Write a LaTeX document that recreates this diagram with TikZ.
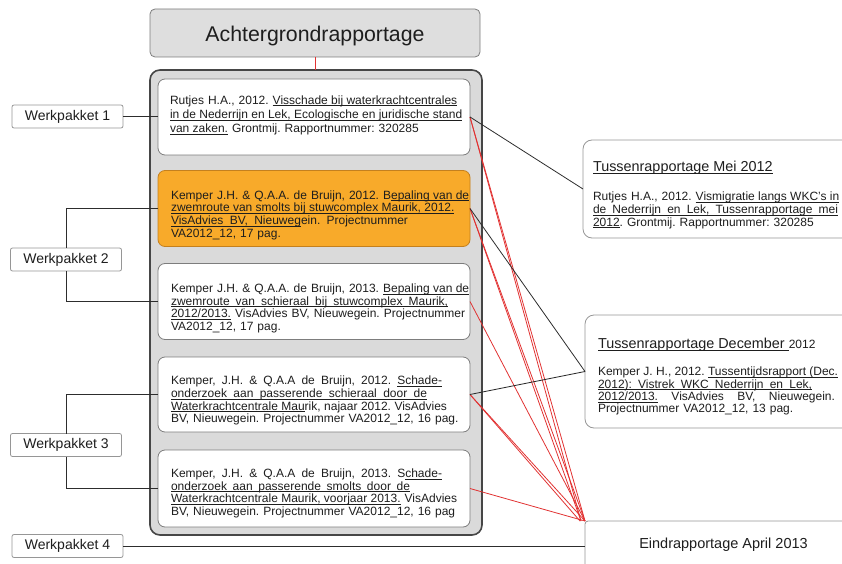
\documentclass[tikz,border=0pt]{standalone}
\usepackage{fontspec}
\setmainfont{Liberation Sans}
\frenchspacing
\newif\ifulfill
\newsavebox\ulwbox
\newcommand\ulword[1]{\leavevmode\sbox\ulwbox{#1}\rlap{\vrule height -0.1em depth 0.17em width \wd\ulwbox}\usebox\ulwbox}
\newcommand\ulspace{\leaders\hrule height -0.1em depth 0.17em\hskip\fontdimen2\font plus \ifulfill 1fil\else\fontdimen3\font\fi minus\fontdimen4\font\relax}
\def\uln#1{\leavevmode\ulnA#1 \ulnend}
\def\ulnA#1 #2\ulnend{\ulword{#1}\ifx\relax#2\relax\else\ulspace\ulnA#2\ulnend\fi}
\newcommand\sline[2]{\leavevmode\hbox to #1{\ulfilltrue\spaceskip=\fontdimen2\font plus 1fil\relax #2}}
\definecolor{contfill}{RGB}{218,218,218}
\definecolor{contdraw}{RGB}{70,70,70}
\definecolor{boxdraw}{RGB}{125,125,125}
\definecolor{lightdraw}{RGB}{150,150,150}
\definecolor{hdrfill}{RGB}{222,222,222}
\definecolor{orangefill}{RGB}{248,170,42}
\definecolor{orangedraw}{RGB}{196,128,30}
\definecolor{redline}{RGB}{225,50,50}
\definecolor{darkline}{RGB}{45,45,45}
\definecolor{txtc}{RGB}{30,30,30}
\begin{document}
\begin{tikzpicture}[x=1pt,y=-1pt,
  every node/.style={inner sep=0pt, outer sep=0pt, text=txtc},
  hdrbox/.style={draw=boxdraw, line width=0.8pt, fill=hdrfill, rounded corners=5pt},
  contbox/.style={draw=contdraw, line width=1.6pt, fill=contfill, rounded corners=10pt},
  refbox/.style={draw=boxdraw, line width=0.8pt, fill=white, rounded corners=7pt, minimum width=312pt, minimum height=76pt},
  orbox/.style={refbox, draw=orangedraw, fill=orangefill},
  sidebox/.style={draw=lightdraw, line width=0.8pt, fill=white, rounded corners=9pt},
  wpbox/.style={draw=lightdraw, line width=0.8pt, fill=white, rounded corners=2pt, minimum width=111pt, minimum height=23pt, font=\fontsize{14}{16}\selectfont},
  reftext/.style={anchor=north west, text width=300pt, align=left, font=\fontsize{12}{12.6}\selectfont},
  conn/.style={draw=darkline, line width=0.8pt},
  redconn/.style={draw=redline, line width=0.8pt}]
\useasboundingbox (0,0) rectangle (842,564);
\clip (0,0) rectangle (842,564);

% header
\node[hdrbox, minimum width=330pt, minimum height=48pt] (hdr) at (315,33) {};
\node[font=\fontsize{21.3}{24}\selectfont] (hdrtext) at (315,36) {Achtergrondrapportage};

% container
\node[contbox, minimum width=332pt, minimum height=465pt] (cont) at (316,302.5) {};

% reference boxes
\node[refbox] (b1) at (314,117) {};
\node[orbox] (b2) at (314,208.5) {};
\node[refbox] (b3) at (314,301.5) {};
\node[refbox, minimum height=75pt] (b4) at (314,394.5) {};
\node[refbox, minimum height=77pt] (b5) at (314,488.5) {};

\node[reftext, font=\fontsize{12}{14.2}\selectfont] (t1) at (170,95.6) {Rutjes H.A., 2012. \uln{Visschade bij waterkrachtcentrales}\\
\uln{in de Nederrijn en Lek, Ecologische en juridische stand}\\
\uln{van zaken.} Grontmij. Rapportnummer: 320285};

\node[reftext] (t2) at (171,190.6) {Kemper J.H. \& Q.A.A. de Bruijn, 2012. B\uln{epaling van de}\\
\uln{zwemroute van smolts bij stuwcomplex Maurik, 2012.}\\
\sline{237pt}{\uln{VisAdvies BV, Nieuweg}ein. Projectnummer}\\
VA2012\_12, 17 pag.};

\node[reftext] (t3) at (171,283.9) {Kemper J.H. \& Q.A.A. de Bruijn, 2013. \uln{Bepaling van de}\\
\sline{277pt}{\uln{zwemroute van schieraal bij stuwcomplex Maurik,}}\\
\uln{2012/2013.} VisAdvies BV, Nieuwegein. Projectnummer\\
VA2012\_12, 17 pag.};

\node[reftext] (t4) at (171,376.3) {\sline{271pt}{Kemper, J.H. \& Q.A.A de Bruijn, 2012. \uln{Schade-}}\\
\sline{256pt}{\uln{onderzoek aan passerende schieraal door de}}\\
\sline{276pt}{\uln{Waterkrachtcentrale Mau}rik, najaar 2012. VisAdvies}\\
BV, Nieuwegein. Projectnummer VA2012\_12, 16 pag.};

\node[reftext] (t5) at (171,468.9) {\sline{271pt}{Kemper, J.H. \& Q.A.A de Bruijn, 2013. S\uln{chade-}}\\
\sline{239pt}{\uln{onderzoek aan passerende smolts door de}}\\
\uln{Waterkrachtcentrale Maurik, voorjaar 2013.} VisAdvies\\
BV, Nieuwegein. Projectnummer VA2012\_12, 16 pag};

% werkpakketten
\node[wpbox] (wp1) at (67.5,116.5) {Werkpakket 1};
\node[wpbox] (wp2) at (66,259.5) {Werkpakket 2};
\node[wpbox] (wp3) at (66,445) {Werkpakket 3};
\node[wpbox] (wp4) at (67.5,546) {Werkpakket 4};

% side boxes
\node[sidebox, minimum width=279pt, minimum height=98pt] (mei) at (722.5,189) {};
\node[anchor=north west, font=\fontsize{14.4}{16}\selectfont] (meititle) at (593,161.5) {\uln{Tussenrapportage Mei 2012}};
\node[reftext, text width=250pt] (meibody) at (593,192.3) {Rutjes H.A., 2012. \uln{Vismigratie langs WKC’s in}\\
\sline{245pt}{\uln{de Nederrijn en Lek, Tussenrapportage mei}}\\
\uln{2012}. Grontmij. Rapportnummer: 320285};

\node[sidebox, minimum width=277pt, minimum height=113pt] (dec) at (723.5,371.5) {};
\node[anchor=north west, font=\fontsize{14.4}{16}\selectfont] (dectitle) at (598,338.1) {\uln{Tussenrapportage December~}{\fontsize{12}{14}\selectfont 2012}};
\node[reftext, text width=245pt, font=\fontsize{12}{12.2}\selectfont] (decbody) at (598,367.3) {\sline{240pt}{Kemper J. H., 2012. \uln{Tussentijdsrapport (Dec.}}\\
\sline{214pt}{\uln{2012): Vistrek WKC Nederrijn en Lek,}}\\
\sline{237pt}{\uln{2012/2013.} VisAdvies BV, Nieuwegein.}\\
Projectnummer VA2012\_12, 13 pag.};

\node[sidebox, rounded corners=3pt, minimum width=277pt, minimum height=50pt] (eind) at (723.5,546) {};
\node[font=\fontsize{14.5}{16}\selectfont] (eindtext) at (723.5,545) {Eindrapportage April 2013};

% connectors
\draw[redconn] (hdr.south) -- (hdr.south |- cont.north);
\draw[conn] (wp1.east) -- (wp1.east -| b1.west);
\draw[conn] (b2.west) -| (wp2.north);
\draw[conn] (b3.west) -| (wp2.south);
\draw[conn] (b4.west) -| (wp3.north);
\draw[conn] (b5.west) -| (wp3.south);
\draw[conn] (wp4.east) -- (eind.west);

\draw[redconn] (b1.east) -- (eind.north west);
\draw[redconn] (b1.east) -- ([xshift=-4pt]eind.north west);
\draw[redconn] (b2.east) -- (eind.north west);
\draw[redconn] (b2.east) -- ([xshift=-4pt]eind.north west);
\draw[redconn] (b3.east) -- (eind.north west);
\draw[redconn] (b4.east) -- (eind.north west);
\draw[redconn] (b4.east) -- ([xshift=-5pt]eind.north west);
\draw[redconn] (b5.east) -- (eind.north west);

\draw[conn] (b1.east) -- (mei.west);
\draw[conn] (b2.east) -- (dec.west);
\draw[conn] (b4.east) -- (dec.west);
\end{tikzpicture}
\end{document}
